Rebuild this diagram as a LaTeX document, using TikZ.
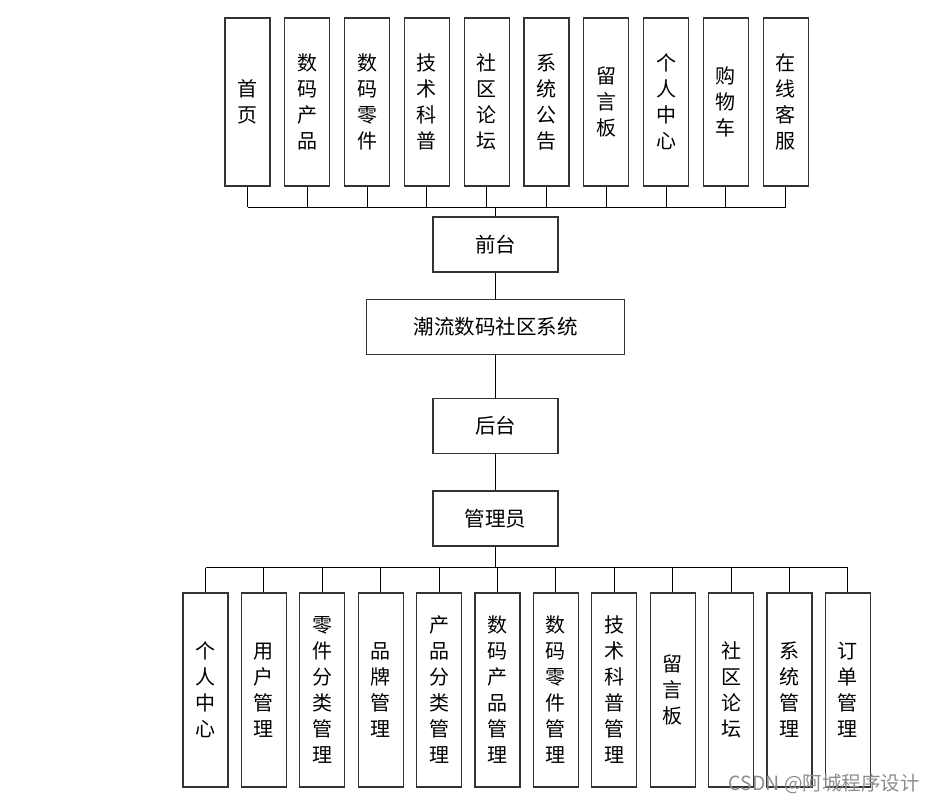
\documentclass[tikz,border=0pt]{standalone}
\usepackage{fontspec}
\newfontfamily\cjk{Noto Sans CJK SC}
\begin{document}
\begin{tikzpicture}[x=1pt,y=-1pt,
  box/.style={draw=black!80, line width=1.1pt, fill=white, inner sep=0pt},
  vbox/.style={box, minimum width=45pt, minimum height=168pt, align=center, font=\cjk\fontsize{20}{26}\selectfont},
  bvbox/.style={box, minimum width=45pt, minimum height=194pt, align=center, font=\cjk\fontsize{20}{26}\selectfont},
  hbox/.style={box, minimum height=55pt, font=\cjk\fontsize{20.5}{24}\selectfont},
  ln/.style={draw=black, line width=0.9pt}]
\useasboundingbox (0,0) rectangle (936,803);
% top boxes
\foreach \t [count=\i from 0] in {{首\\页},{数\\码\\产\\品},{数\\码\\零\\件},{技\\术\\科\\普},{社\\区\\论\\坛},{系\\统\\公\\告},{留\\言\\板},{个\\人\\中\\心},{购\\物\\车},{在\\线\\客\\服}}
  \node[vbox] (t\i) at ({247.5+59.8*\i},102) {\t};
\node[hbox, minimum width=125pt] (qt) at (495.5,244.5) {前台};
\node[hbox, minimum width=258pt] (sys) at (495.5,327) {潮流数码社区系统};
\node[hbox, minimum width=125pt] (ht) at (495.5,426) {后台};
\node[hbox, minimum width=125pt] (adm) at (495.5,518.5) {管理员};
% bottom boxes
\foreach \t [count=\i from 0] in {{个\\人\\中\\心},{用\\户\\管\\理},{零\\件\\分\\类\\管\\理},{品\\牌\\管\\理},{产\\品\\分\\类\\管\\理},{数\\码\\产\\品\\管\\理},{数\\码\\零\\件\\管\\理},{技\\术\\科\\普\\管\\理},{留\\言\\板},{社\\区\\论\\坛},{系\\统\\管\\理},{订\\单\\管\\理}}
  \node[bvbox] (b\i) at ({205.5+58.4*\i},690) {\t};
% connectors
\coordinate (tbus) at (495.5,207);
\coordinate (bbus) at (495.5,567.5);
\foreach \i in {0,...,9}
  \draw[ln] (t\i.south) -- (t\i.south |- tbus);
\draw[ln] (t0.south |- tbus) -- (t9.south |- tbus);
\draw[ln] (qt.north) -- (qt.north |- tbus);
\draw[ln] (qt.south) -- (sys.north);
\draw[ln] (sys.south) -- (ht.north);
\draw[ln] (ht.south) -- (adm.north);
\draw[ln] (adm.south) -- (bbus);
\foreach \i in {0,...,11}
  \draw[ln] (b\i.north) -- (b\i.north |- bbus);
\draw[ln] (b0.north |- bbus) -- (b11.north |- bbus);
% watermark
\node[anchor=east, text=black!45, font=\cjk\fontsize{19.5}{22}\selectfont, inner sep=0pt] (wm) at (920,784) {CSDN @阿城程序设计};
\end{tikzpicture}
\end{document}
